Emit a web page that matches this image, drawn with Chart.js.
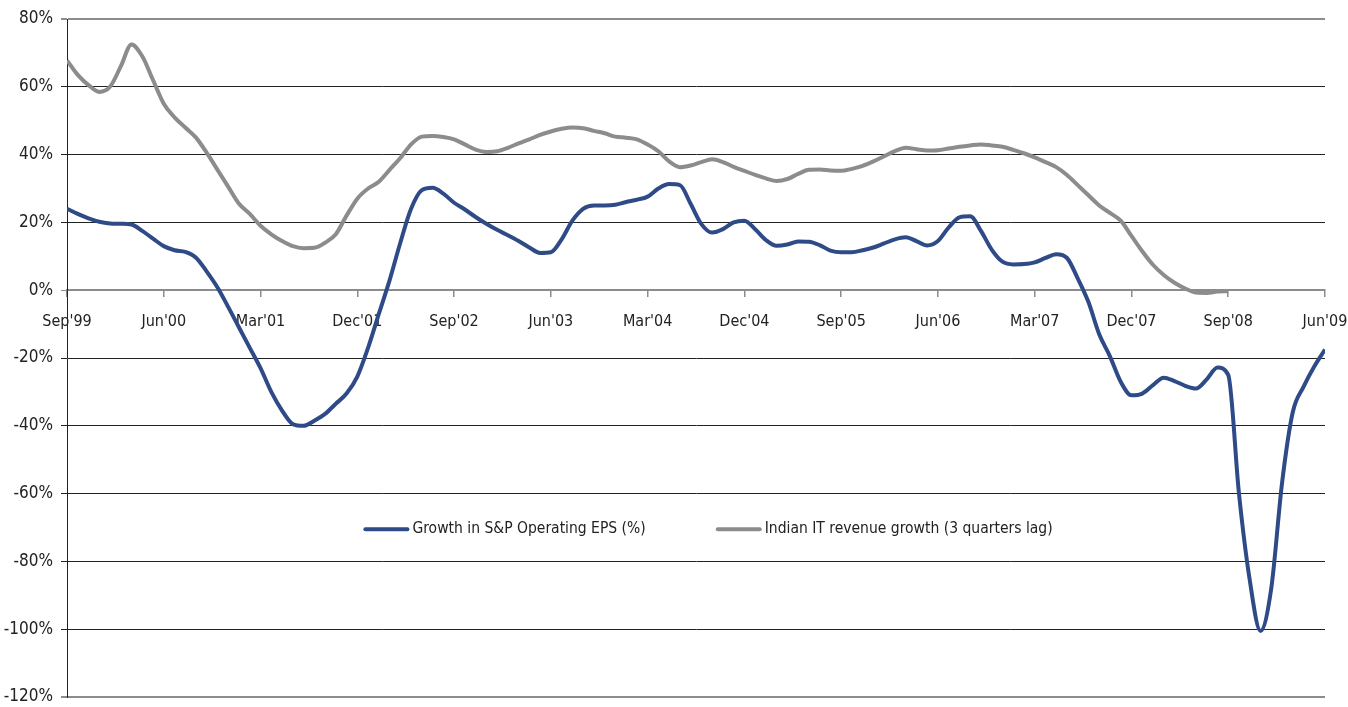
<!DOCTYPE html>
<html>
<head>
<meta charset="utf-8">
<script src="https://cdn.jsdelivr.net/npm/chart.js@4.4.1/dist/chart.umd.min.js"></script>
<style>
  html, body { margin: 0; padding: 0; background: #fff; }
  #wrap { width: 1348px; height: 707px; }
</style>
</head>
<body>
<div id="wrap"><canvas id="chart"></canvas></div>
<script>
// axe x : un point par mois, de Sep'99 (0) à Jun'09 (117)
const tickLabels = ["Sep'99", "Jun'00", "Mar'01", "Dec'01", "Sep'02", "Jun'03", "Mar'04",
  "Dec'04", "Sep'05", "Jun'06", "Mar'07", "Dec'07", "Sep'08", "Jun'09"];

// Growth in S&P Operating EPS (%) - mensuel
const epsGrowth = [
  24, 22.5, 21.2, 20.2, 19.7, 19.6, 19.4, 17.5, 15.2, 13,
  11.8, 11.3, 9.6, 5.5, 0.8, -5, -11, -17, -23, -30,
  -35.5, -39.5, -40, -38.5, -36.5, -33.5, -30.5, -25.5, -17, -7,
  2.9, 14, 24, 29.5, 30.2, 28.5, 25.8, 23.8, 21.6, 19.6,
  17.8, 16.2, 14.5, 12.6, 11, 11.2, 15, 20.5, 24, 25,
  25, 25.2, 26, 26.7, 27.6, 30, 31.3, 31, 25.5, 19.5,
  17, 18, 20, 20.5, 18, 14.8, 13.1, 13.5, 14.4, 14.3,
  13.3, 11.7, 11.2, 11.2, 11.8, 12.6, 13.8, 15, 15.6, 14.5,
  13.2, 14.5, 18.5, 21.5, 21.8, 17.5, 12, 8.4, 7.6, 7.7,
  8.2, 9.5, 10.6, 9.5, 3.5, -3.5, -13, -19.5, -27, -31,
  -30.5, -28, -25.8, -26.8, -28.2, -29, -26.3, -22.8, -25, -60,
  -85.5, -100.5, -88, -57, -36, -28.5, -22.5, -17.5
];

// Indian IT revenue growth (3 quarters lag) - s'arrête à Sep'08
const itGrowth = [
  67.8, 63.5, 60.5, 58.5, 60, 66, 72.5, 69, 62, 55,
  51, 48, 45, 40.5, 35.5, 30.5, 25.5, 22.5, 19, 16.5,
  14.5, 13, 12.4, 12.5, 14, 16.5, 22, 27, 30, 32,
  35.5, 39, 43, 45.3, 45.5, 45.2, 44.5, 43, 41.5, 40.8,
  41, 42, 43.3, 44.5, 45.8, 46.8, 47.6, 48, 47.8, 47,
  46.3, 45.3, 45, 44.5, 43, 41, 38, 36.3, 36.8, 37.8,
  38.6, 37.8, 36.4, 35.2, 34, 33, 32.2, 32.8, 34.3, 35.5,
  35.6, 35.3, 35.2, 35.8, 36.7, 38, 39.5, 41, 42, 41.6,
  41.2, 41.3, 41.8, 42.3, 42.7, 43, 42.7, 42.3, 41.4, 40.4,
  39.2, 37.8, 36.3, 34, 31, 28, 25, 22.8, 20.5, 16,
  11.5, 7.5, 4.5, 2.2, 0.5, -0.7, -0.8, -0.4, -0.3
];

const BLUE = 'rgb(46,74,135)';
const GREY = 'rgb(140,140,140)';
const FONT = '"DejaVu Sans Condensed", "Liberation Sans Narrow", sans-serif';

const toPoints = arr => arr.map((v, i) => ({ x: i, y: v }));

// légende dessinée à l'intérieur de la zone du graphique
const innerLegend = {
  id: 'innerLegend',
  afterDraw(chart) {
    const ctx = chart.ctx;
    const area = chart.chartArea;
    const y = chart.scales.y.getPixelForValue(-70.5);
    ctx.save();
    ctx.font = '15.5px ' + FONT;
    ctx.textBaseline = 'middle';
    const items = chart.data.datasets.map(ds => ({
      label: ds.label, color: ds.borderColor, w: ctx.measureText(ds.label).width
    }));
    const lineW = 42, gapText = 5, gapItem = 72;
    let total = 0;
    items.forEach((it, i) => { total += lineW + gapText + it.w + (i ? gapItem : 0); });
    let x = (area.left + area.right) / 2 + 13 - total / 2;
    items.forEach((it, i) => {
      if (i) x += gapItem;
      ctx.strokeStyle = it.color;
      ctx.lineWidth = 4;
      ctx.lineCap = 'round';
      ctx.beginPath();
      ctx.moveTo(x, y);
      ctx.lineTo(x + lineW, y);
      ctx.stroke();
      x += lineW + gapText;
      ctx.fillStyle = '#222';
      ctx.fillText(it.label, x, y);
      x += it.w;
    });
    ctx.restore();
  }
};

new Chart(document.getElementById('chart'), {
  type: 'line',
  data: {
    datasets: [
      {
        label: 'Growth in S&P Operating EPS (%)',
        data: toPoints(epsGrowth),
        borderColor: BLUE,
        borderWidth: 4,
        pointRadius: 0,
        cubicInterpolationMode: 'monotone',
        fill: false
      },
      {
        label: 'Indian IT revenue growth (3 quarters lag)',
        data: toPoints(itGrowth),
        borderColor: GREY,
        borderWidth: 4,
        pointRadius: 0,
        cubicInterpolationMode: 'monotone',
        fill: false
      }
    ]
  },
  options: {
    responsive: true,
    maintainAspectRatio: false,
    animation: false,
    layout: { padding: { top: 19, right: 23, bottom: 10, left: 0 } },
    plugins: {
      legend: { display: false },
      tooltip: { enabled: false }
    },
    scales: {
      x: {
        type: 'linear',
        position: { y: 0 },
        min: 0,
        max: 117,
        border: { color: GREY, width: 2 },
        grid: { drawOnChartArea: false, drawTicks: true, tickLength: 6, color: GREY, lineWidth: 1.5 },
        ticks: {
          stepSize: 9,
          autoSkip: false,
          maxRotation: 0,
          padding: 16,
          color: '#222',
          font: { family: FONT, size: 16 },
          callback: v => tickLabels[v / 9]
        },
        // l'axe est posé sur 0 : il ne doit pas prendre de place
        afterFit: scale => {
          scale.height = 0;
          scale.paddingLeft = 0;
          scale.paddingRight = 0;
        }
      },
      y: {
        min: -120,
        max: 80,
        border: { color: '#222', width: 1 },
        grid: {
          color: ctx => (ctx.tick && (ctx.tick.value === 80 || ctx.tick.value === -120 || ctx.tick.value === 0)) ? GREY : '#222',
          lineWidth: ctx => (ctx.tick && (ctx.tick.value === 80 || ctx.tick.value === -120)) ? 2 : 1,
          tickLength: 6
        },
        ticks: {
          stepSize: 20,
          padding: 8,
          color: '#222',
          font: { family: FONT, size: 17 },
          callback: v => v + '%'
        },
        afterFit: scale => {
          scale.width = 67;
          scale.paddingTop = 0;
          scale.paddingBottom = 0;
        }
      }
    }
  },
  plugins: [innerLegend]
});
</script>
</body>
</html>
